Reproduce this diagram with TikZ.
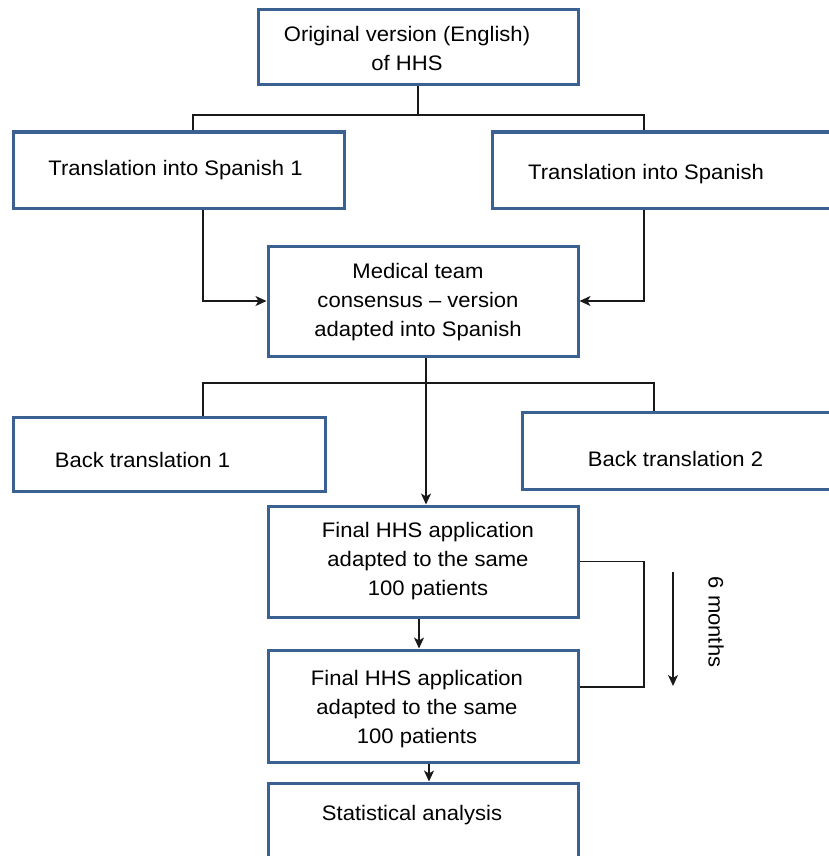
\documentclass[tikz,border=0pt]{standalone}
\usepackage{fontspec}
\setmainfont{Liberation Sans}[FakeStretch=1.05]
\usetikzlibrary{arrows.meta}
\definecolor{boxblue}{RGB}{59,96,146}
\begin{document}
\begin{tikzpicture}[x=1pt,y=-1pt,
  box/.style={draw=boxblue, line width=3pt, rectangle, inner sep=0pt},
  txt/.style={font=\fontsize{21}{29}\selectfont, align=center, inner sep=0pt, text=black},
  conn/.style={draw=black!90, line width=1.5pt},
  arr/.style={conn, -{Stealth[length=11pt,width=10pt,inset=3pt]}}]
\useasboundingbox (0,0) rectangle (829,856);
\clip (0,0) rectangle (829,856);
\fill[white] (0,0) rectangle (829,856);
% boxes
\node[box, minimum width=320pt, minimum height=75pt] (top) at (418,47.5) {};
\node[box, minimum width=331pt, minimum height=76pt] (t1) at (178.5,170) {};
\node[box, minimum width=380pt, minimum height=76pt] (t2) at (682,170) {};
\node[box, minimum width=310pt, minimum height=110pt] (med) at (423,301) {};
\node[box, minimum width=312pt, minimum height=74pt] (b1) at (169,454) {};
\node[box, minimum width=348pt, minimum height=77pt] (b2) at (696,450.5) {};
\node[box, minimum width=310pt, minimum height=111pt] (f1) at (423,561.5) {};
\node[box, minimum width=310pt, minimum height=112pt] (f2) at (423,706) {};
\node[box, minimum width=310pt, minimum height=120pt] (st) at (423,843) {};
% texts
\node[txt] (ttop) at (407,48) {Original version (English)\\of HHS};
\node[txt] (tt1) at (175.5,170.5) {Translation into Spanish 1};
\node[txt] (tt2) at (646,174.5) {Translation into Spanish};
\node[txt] (tmed) at (418,302.5) {Medical team\\consensus -- version\\adapted into Spanish};
\node[txt] (tb1) at (142.5,459.5) {Back translation 1};
\node[txt] (tb2) at (675.5,458.5) {Back translation 2};
\node[txt] (tf1) at (428,561.5) {Final HHS application\\adapted to the same\\100 patients};
\node[txt] (tf2) at (417,709) {Final HHS application\\adapted to the same\\100 patients};
\node[txt] (tst) at (412,815.5) {Statistical analysis};
\node[txt, rotate=-90] (six) at (716,622) {6 months};
% connectors
\coordinate (jl) at (193,115);
\coordinate (jr) at (644,115);
\draw[conn] (top.south) -- (top.south |- jl);
\draw[conn] (jl |- t1.north) -- (jl) -- (jr) -- (jr |- t2.north);
\coordinate (a1) at (203,0);
\coordinate (a2) at (644,0);
\draw[arr] (a1 |- t1.south) |- (med.west);
\draw[arr] (a2 |- t2.south) |- (med.east);
\coordinate (bl) at (203,383);
\coordinate (br) at (654,383);
\draw[conn] (bl |- b1.north) -- (bl) -- (br) -- (br |- b2.north);
\coordinate (mx) at (426,0);
\draw[arr] (mx |- med.south) -- (mx |- f1.north);
\coordinate (q) at (644,687);
\draw[conn] (f1.east) -| (q) -- (q -| f2.east);
\coordinate (m1) at (673,572);
\coordinate (m2) at (673,686);
\draw[arr] (m1) -- (m2);
\coordinate (x2) at (419,0);
\draw[arr] (x2 |- f1.south) -- (x2 |- f2.north);
\coordinate (x3) at (429,0);
\draw[arr] (x3 |- f2.south) -- (x3 |- st.north);
\end{tikzpicture}
\end{document}
